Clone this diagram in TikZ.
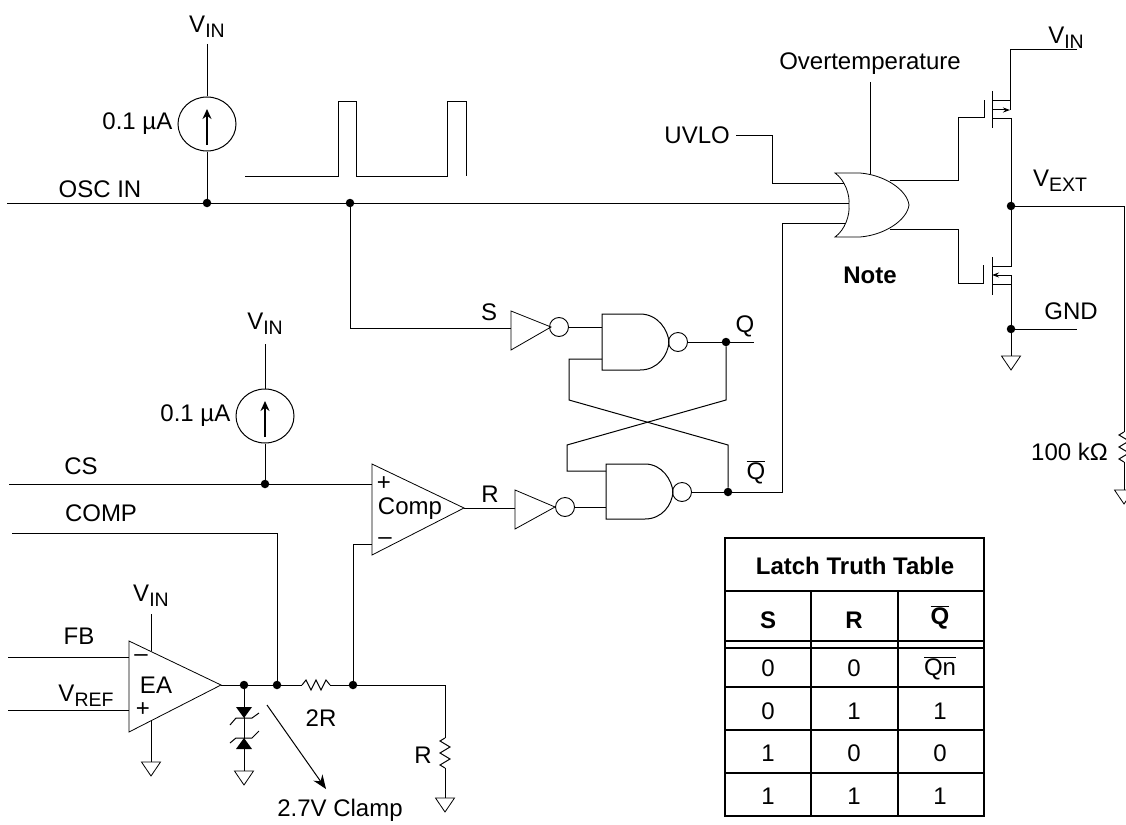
\documentclass[tikz,border=0pt]{standalone}
\usepackage{fontspec}
\setmainfont{Liberation Sans}
\usetikzlibrary{positioning,arrows.meta,shapes.geometric,calc}

\newcommand{\lowtxt}[1]{\raisebox{-0.42ex}{\fontsize{19.5}{19.5}\selectfont #1}}
\newcommand{\barq}[1]{$\overline{\mbox{#1}}$}

\tikzset{
    wire/.style={line width=1pt},
    dot/.style={circle, fill=black, inner sep=0pt, minimum size=8.5pt},
    bubble/.style={circle, draw, line width=0.9pt, fill=white, inner sep=0pt, minimum size=19pt},
    isource/.style={ellipse, draw, line width=1pt, inner sep=0pt, minimum width=58pt, minimum height=54pt},
    lbl/.style={inner sep=1pt, font=\fontsize{24}{26}\selectfont},
    boldlbl/.style={inner sep=0pt, font=\fontsize{24}{26}\selectfont\bfseries},
    tablelbl/.style={inner sep=0pt, font=\fontsize{24}{26}\selectfont},
    pics/gnd/.style={code={
        \draw[line width=0.8pt] (-9.5,0) -- (9.5,0) -- (0,14) -- cycle;
    }},
    pics/rvert/.style={code={
        \draw[wire] (0,0) -- (-5,3) -- (5,9) -- (-5,15) -- (5,21) -- (-5,27) -- (0,30);
    }},
    pics/rhoriz/.style={code={
        \draw[wire] (0,0) -- (4,-5) -- (9,5) -- (14,-5) -- (19,5) -- (24,-5) -- (28,0);
    }}
}

\begin{document}
\begin{tikzpicture}[x=1pt,y=-1pt]
    \useasboundingbox (0,0) rectangle (1126,824);
    \fill[white] (0,0) rectangle (1126,824);

    % junctions
    \node[dot] (oscdot1) at (207,203) {};
    \node[dot] (oscdot2) at (350,203) {};
    \node[dot] (qdot) at (726,342) {};
    \node[dot] (qbdot) at (728,492) {};
    \node[dot] (vextdot) at (1011,206) {};
    \node[dot] (gnddot) at (1011,329) {};
    \node[dot] (csdot) at (265,484) {};
    \node[dot] (clampdot) at (244,685) {};
    \node[dot] (compdot) at (277,685) {};
    \node[dot] (divdot) at (353,685) {};

    % current sources
    \node[isource] (src1) at (207,124) {};
    \node[isource] (src2) at (265,416) {};
    \node[lbl, left=4pt of src1] (src1lbl) {0.1 µA};
    \node[lbl, left=4pt of src2] (src2lbl) {0.1 µA};
    \draw[line width=1.5pt, -{Stealth[length=10pt,width=9pt]}] (src1.center |- 0,145) -- (src1.center |- 0,109);
    \draw[line width=1.5pt, -{Stealth[length=10pt,width=9pt]}] (src2.center |- 0,437) -- (src2.center |- 0,401);

    % supply labels
    \node[lbl] (vin1) at (207,27) {V\lowtxt{IN}};
    \node[lbl] (vin2) at (265,324) {V\lowtxt{IN}};
    \node[lbl] (vin3) at (151,596) {V\lowtxt{IN}};
    \node[lbl] (vin4) at (1066,38) {V\lowtxt{IN}};
    \node[lbl] (vext) at (1060,181) {V\lowtxt{EXT}};
    \node[lbl] (gnd) at (1071,311) {GND};

    % oscillator and pulses
    \coordinate (oscin) at (7,203);
    \coordinate (orin2) at (852,203);
    \node[lbl] (osclbl) at (100,189) {OSC IN};
    \draw[wire] (oscin) -- (oscdot1) -- (oscdot2) -- (orin2);
    \draw[wire] (207,44) -- (src1.north);
    \draw[wire] (src1.south) -- (oscdot1);
    \draw[wire] (245,176) -- (338,176) -- (338,102) -- (356,102) -- (356,176)
        -- (447,176) -- (447,102) -- (466,102) -- (466,176);

    % or gate
    \draw[line width=0.8pt, fill=white] (835,173) .. controls (845,180) and (850,195) .. (849,205)
        .. controls (850,215) and (845,230) .. (835,237) -- (860,237)
        .. controls (885,235) and (907,220) .. (909,205)
        .. controls (907,190) and (885,175) .. (860,173) -- cycle;
    \coordinate (orin1) at (844,183);
    \coordinate (orin3) at (846,223);
    \coordinate (orout1) at (890,180);
    \coordinate (orout2) at (890,229);
    \coordinate (ovtop) at (870,174);
    \draw[wire] (orin2) -- (852,203);
    \node[lbl, anchor=east] (uvlo) at (731,135) {UVLO};
    \node[lbl] (overtemp) at (870,64) {Overtemperature};
    \node[boldlbl] (note) at (870,275) {Note};
    \draw[wire] (736,135) -| (772,183) -- (orin1);
    \draw[wire] (870,82) -- (ovtop);

    % output stage
    \coordinate (pgate) at (984,118);
    \coordinate (ngate) at (983,283);
    \draw[wire] (orout1) -| (958.5,118) -- (pgate) -- (984,100);
    \draw[wire] (orout2) -| (958.5,283) -- (ngate) -- (983,265);
    \draw[wire] (992,91) -- (992,128);
    \draw[wire] (992,257) -- (992,295);
    \draw[wire] (1077,50) -- (1010,50) -- (1010,110);
    \draw[wire] (992,101) -- (1010,101);
    \draw[wire, -{Stealth[length=7pt,width=5pt]}] (992,110) -- (1010,110);
    \draw[wire] (992,119) -- (1011,119) -- (vextdot) -- (1011,266) -- (992,266);
    \draw[wire, -{Stealth[length=7pt,width=5pt]}] (1011,275) -- (992,275);
    \draw[wire] (1011,275) -- (1011,284) -- (992,284);
    \draw[wire] (1011,284) -- (gnddot) -- (1011,356);
    \draw[wire] (gnddot) -- (1077,329);
    \pic at (1011,356) {gnd};

    % load resistor
    \node[lbl, anchor=east] (rload) at (1109,452) {100 kΩ};
    \draw[wire] (vextdot) -- (1124,206) -- (1124,432);
    \pic at (1124,432) {rvert};
    \draw[wire] (1124,462) -- (1124,490);
    \pic at (1124,490) {gnd};

    % latch
    \node[lbl] (slbl) at (489,312) {S};
    \node[lbl] (rlbl) at (490,494) {R};
    \node[lbl] (qlbl) at (745,326) {Q};
    \node[lbl] (qblbl) at (756,472) {\barq{Q}};
    \node[bubble] (sinv) at (559,327) {};
    \node[bubble] (rinv) at (565,507) {};
    \node[bubble] (nand1) at (678,342) {};
    \node[bubble] (nand2) at (682,492) {};
    \draw[wire] (oscdot2) -- (350,328) -- (511,328);
    \draw[line width=0.8pt] (511,311) -- (511,350) -- (551,327) -- cycle;
    \draw[wire] (465,508) -- (515,508);
    \draw[line width=0.8pt] (515,490) -- (515,529) -- (555,507) -- cycle;
    \draw[wire] (sinv.east) -- (602,327);
    \draw[wire] (rinv.east) -- (606,507);
    \draw[wire] (602,314) -- (640,314) .. controls (658,314) and (668,330) .. (669,342)
        .. controls (668,355) and (658,370) .. (640,370) -- (602,370) -- cycle;
    \draw[wire] (606,464) -- (645,464) .. controls (662,464) and (672,480) .. (673,492)
        .. controls (672,505) and (662,519) .. (645,519) -- (606,519) -- cycle;
    \draw[wire] (nand1.east) -- (qdot) -- (754,342);
    \draw[wire] (qdot) -- (726,400) -- (567,445) -- (567,471) -- (606,471);
    \draw[wire] (602,359) -- (569,359) -- (569,400) -- (728,445) -- (qbdot);
    \draw[wire] (nand2.east) -- (qbdot) -- (782,492) -- (782,223) -- (orin3);

    % comparator
    \draw[line width=0.8pt] (372,464) -- (372,555) -- (464,508) -- cycle;
    \node[lbl] (cplus) at (384,484) {+};
    \node[lbl] (comp) at (410,509) {Comp};
    \node[lbl] (cminus) at (385,541) {--};
    \node[lbl] (cslbl) at (81,466) {CS};
    \node[lbl] (complbl) at (101,513) {COMP};
    \draw[wire] (9,484) -- (csdot) -- (372,484);
    \draw[wire] (265,344) -- (src2.north);
    \draw[wire] (src2.south) -- (csdot);
    \draw[wire] (464,508) -- (465,508);
    \draw[wire] (12,533) -- (277,533) -- (compdot);

    % error amp
    \draw[line width=0.8pt] (129,641) -- (129,732) -- (221,685) -- cycle;
    \node[lbl] (eaminus) at (141,658) {--};
    \node[lbl] (ea) at (156,685) {EA};
    \node[lbl] (eaplus) at (143,710) {+};
    \node[lbl] (fb) at (79,636) {FB};
    \node[lbl] (vref) at (86,696) {V\lowtxt{REF}};
    \draw[wire] (8,657) -- (129,657);
    \draw[wire] (8,710) -- (129,710);
    \draw[wire] (151,614) -- (151,651);
    \draw[wire] (151,721) -- (151,762);
    \pic at (151,762) {gnd};

    % divider
    \draw[wire] (221,685) -- (clampdot) -- (compdot) -- (302,685);
    \pic at (302,685) {rhoriz};
    \draw[wire] (330,685) -- (divdot) -- (445,685) -- (445,738);
    \draw[wire] (divdot) -- (353,544) -- (372,544);
    \pic at (445,738) {rvert};
    \draw[wire] (445,768) -- (445,798);
    \pic at (445,798) {gnd};
    \node[lbl] (r2lbl) at (321,718) {2R};
    \node[lbl] (r1lbl) at (423,755) {R};

    % clamp
    \draw[wire] (clampdot) -- (244,771);
    \fill (236,707) -- (252,707) -- (244,718) -- cycle;
    \fill (244,738) -- (252,749) -- (236,749) -- cycle;
    \draw[wire] (230,725) -- (236,718) -- (252,718) -- (259,713);
    \draw[wire] (230,743) -- (236,738) -- (252,738) -- (259,731);
    \pic at (244,771) {gnd};
    \node[lbl] (clamp) at (340,810) {2.7V Clamp};
    \coordinate (clampstart) at (267,705);
    \draw[wire, -{Stealth[length=14pt,width=11pt]}] (clampstart) -- (326,789);

    % truth table
    \draw[line width=1.5pt] (725,538) rectangle (984,816);
    \foreach \y in {591,641,648,687,730,773} {
        \draw[line width=1.5pt] (725,\y) -- (984,\y);
    }
    \draw[line width=1.5pt] (811,591) -- (811,816);
    \draw[line width=1.5pt] (898,591) -- (898,816);
    \node[boldlbl] (tabtitle) at (855,566) {Latch Truth Table};
    \node[boldlbl] (hs) at (768,620) {S};
    \node[boldlbl] (hr) at (854,620) {R};
    \node[boldlbl] (hq) at (940,617) {\barq{Q}};
    \foreach \yy/\sv/\rv/\qv in {668/0/0/\barq{Qn},711/0/1/1,753/1/0/0,796/1/1/1} {
        \node[tablelbl] at (768,\yy) {\sv};
        \node[tablelbl] at (854,\yy) {\rv};
        \node[tablelbl] at (940,\yy) {\qv};
    }
\end{tikzpicture}
\end{document}
